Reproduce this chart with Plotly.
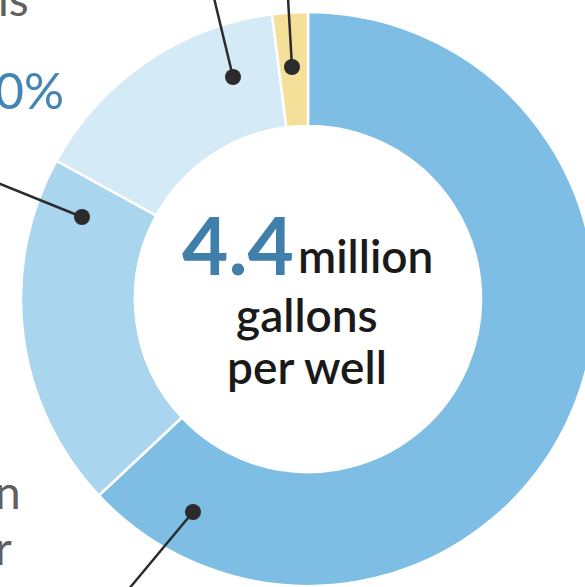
import plotly.graph_objects as go

# ---- data ----
categories = ["Largest share", "Second share", "Third share", "Smallest share"]
shares = [63, 20, 15, 2]
slice_colors = ["#7ebee4", "#a9d5ef", "#d5eaf7", "#f5e09a"]
center_value = "4.4"
center_unit = "million"
center_lines = ["gallons", "per well"]

# ---- canvas (pixels) ----
W, H = 620, 600
CX, CY, R = 308, 299, 287          # donut centre / outer radius in px
HOLE = 0.603


def px(x):
    return x / W


def py(y):
    return 1 - y / H


fig = go.Figure(go.Pie(
    labels=categories,
    values=shares,
    hole=HOLE,
    sort=False,
    direction="clockwise",
    rotation=0,
    marker=dict(colors=slice_colors, line=dict(color="white", width=2.5)),
    textinfo="none",
    hoverinfo="label+percent",
    domain=dict(x=[px(CX - R), px(CX + R)], y=[py(CY + R), py(CY - R)]),
    showlegend=False,
))

font = "Lato, 'Open Sans', sans-serif"
ann = []
# centre text
ann.append(dict(text=center_value, x=px(296), y=py(244), xanchor="right", yanchor="middle",
                font=dict(family=font, size=80, color="#3f7faa", weight=700)))
ann.append(dict(text=center_unit, x=px(296), y=py(255), xanchor="left", yanchor="middle",
                font=dict(family=font, size=46, color="#1a1a1a", weight=600)))
ann.append(dict(text=center_lines[0], x=px(307), y=py(314), xanchor="center", yanchor="middle",
                font=dict(family=font, size=46, color="#1a1a1a", weight=600)))
ann.append(dict(text=center_lines[1], x=px(307), y=py(366), xanchor="center", yanchor="middle",
                font=dict(family=font, size=46, color="#1a1a1a", weight=600)))
# cropped outer labels
ann.append(dict(text="ls", x=px(31), y=py(-1), xanchor="right", yanchor="middle",
                font=dict(family=font, size=46, color="#606060")))
ann.append(dict(text="20%", x=px(66), y=py(90), xanchor="right", yanchor="middle",
                font=dict(family=font, size=50, color="#4585b5")))
ann.append(dict(text="n", x=px(23), y=py(492), xanchor="right", yanchor="middle",
                font=dict(family=font, size=46, color="#606060")))
ann.append(dict(text="r", x=px(14), y=py(547), xanchor="right", yanchor="middle",
                font=dict(family=font, size=46, color="#606060")))
for a in ann:
    a.update(xref="paper", yref="paper", showarrow=False)

# leader lines with dots (pixel positions of callouts)
leaders = [((233, 77), (214, -2)), ((292, 67), (288, -2)),
           ((82, 217), (-2, 183)), ((193, 512), (128, 590))]
shapes = []
for (dx, dy), (ex, ey) in leaders:
    shapes.append(dict(type="line", xref="paper", yref="paper",
                       x0=px(dx), y0=py(dy), x1=px(ex), y1=py(ey),
                       line=dict(color="#2b2b2b", width=2.5)))
    r = 8
    shapes.append(dict(type="circle", xref="paper", yref="paper",
                       x0=px(dx - r), y0=py(dy + r), x1=px(dx + r), y1=py(dy - r),
                       fillcolor="#2b2b2b", line=dict(width=0)))

fig.update_layout(
    width=W, height=H,
    margin=dict(l=0, r=0, t=0, b=0),
    paper_bgcolor="white", plot_bgcolor="white",
    annotations=ann, shapes=shapes,
)

fig.write_html("out.html", config={"displayModeBar": False},
               post_script="document.documentElement.style.overflow='hidden';document.body.style.overflow='hidden';document.body.style.margin='0';")
